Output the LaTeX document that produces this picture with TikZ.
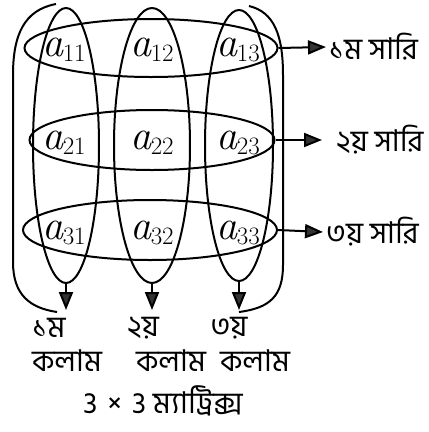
\documentclass[tikz,border=0pt]{standalone}
\usepackage{fontspec}
\newfontfamily\bn[Script=Bengali]{Hind Siliguri}
\newfontfamily\lmr{Latin Modern Roman}
\usetikzlibrary{shapes.geometric,arrows.meta}
\newcommand{\ent}[2]{{\lmr\fontsize{42}{42}\selectfont\itshape a}\kern-0.5pt\raisebox{-5pt}{\lmr\fontsize{25}{25}\selectfont #1#2}}
\begin{document}
\begin{tikzpicture}[x=1pt,y=-1pt,
  oval/.style={draw,ellipse,line width=2pt,inner sep=0pt},
  lin/.style={line width=2pt},
  tip/.style={-{Triangle[length=18pt,width=14pt,fill=black!80]}},
  entry/.style={inner sep=0pt},
  lbl/.style={font=\bn\fontsize{30}{32}\selectfont,inner sep=0pt},
]
\useasboundingbox (0,0) rectangle (429,432);
% row ovals
\node[oval,minimum width=253pt,minimum height=58pt] (r1) at (151,48) {};
\node[oval,minimum width=245pt,minimum height=60pt] (r2) at (152,140) {};
\node[oval,minimum width=254pt,minimum height=60pt] (r3) at (150,230) {};
% column ovals
\node[oval,minimum width=66pt,minimum height=275pt] (c1) at (66,145.5) {};
\node[oval,minimum width=76pt,minimum height=275pt] (c2) at (152,145.5) {};
\node[oval,minimum width=68pt,minimum height=271pt] (c3) at (239,145.5) {};
% entries
\node[entry] (a11) at (64,50) {\ent11};
\node[entry] (a12) at (152,50) {\ent12};
\node[entry] (a13) at (238,50) {\ent13};
\node[entry] (a21) at (64,143) {\ent21};
\node[entry] (a22) at (152,143) {\ent22};
\node[entry] (a23) at (238,143) {\ent23};
\node[entry] (a31) at (64,233) {\ent31};
\node[entry] (a32) at (152,233) {\ent32};
\node[entry] (a33) at (238,233) {\ent33};
% row labels
\node[lbl,anchor=west] (l1) at (329,47) {১ম সারি};
\node[lbl,anchor=west] (l2) at (336,140) {২য় সারি};
\node[lbl,anchor=west] (l3) at (326,232) {৩য় সারি};
\draw[lin,tip] (r1.east) -- ([xshift=-3pt]l1.west);
\draw[lin,tip] (r2.east) -- ([xshift=-14pt]l2.west);
\draw[lin,tip] (r3.east) -- ([xshift=-3pt]l3.west);
% column arrows
\coordinate (t1) at (66,310);
\coordinate (t2) at (152,310);
\coordinate (t3) at (239,310);
\draw[lin,tip] (c1.south) -- (t1);
\draw[lin,tip] (c2.south) -- (t2);
\draw[lin,tip] (c3.south) -- (t3);
% outer curves
\draw[lin] ([xshift=-10pt,yshift=3pt]c1.north) .. controls (24,10) and (13,35) .. (13,75)
  -- (13,262) .. controls (13,295) and (30,308) .. ([xshift=-9pt,yshift=-2pt]t1);
\draw[lin] ([xshift=10pt,yshift=3pt]c3.north) .. controls (274,12) and (283,35) .. (283,75)
  -- (283,265) .. controls (283,296) and (270,308) .. ([yshift=-2pt]t3);
% column labels
\node[lbl] (k1) at (49,328) {১ম};
\node[lbl] (k2) at (143,328) {২য়};
\node[lbl] (k3) at (229,328) {৩য়};
\node[lbl] (m1) at (67,361) {কলাম};
\node[lbl] (m2) at (171,361) {কলাম};
\node[lbl] (m3) at (255,361) {কলাম};
\node[lbl] (cap) at (163,401) {3\,\,×\,\,3 ম্যাট্রিক্স};
\end{tikzpicture}
\end{document}
